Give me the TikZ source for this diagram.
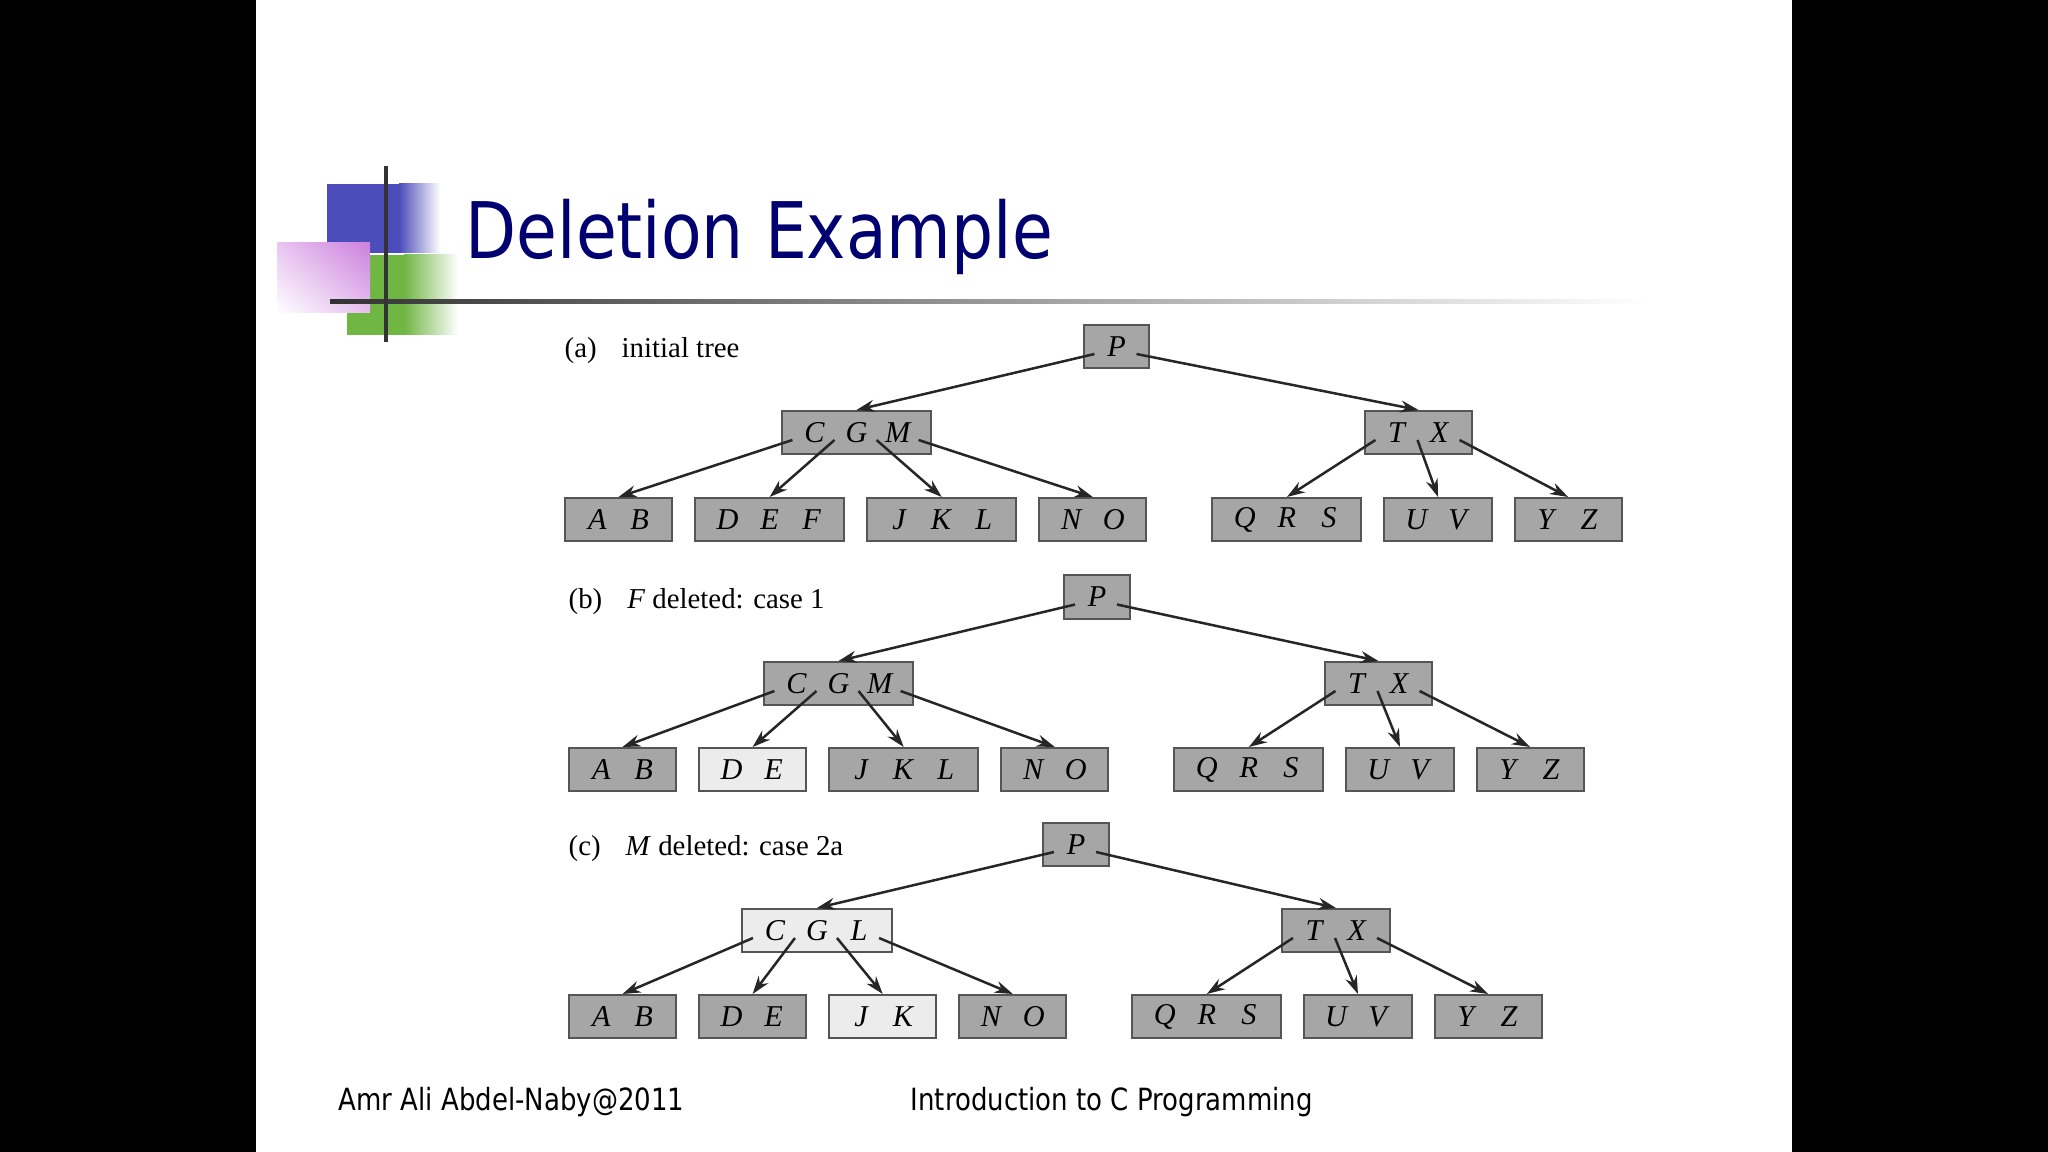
\documentclass[tikz,border=0pt]{standalone}
\usepackage{fontspec}
\setmainfont{Liberation Serif}
\newfontfamily\slidefont[FakeStretch=0.85]{DejaVu Sans}
\usetikzlibrary{arrows.meta, positioning, shadings}
\definecolor{keycol}{RGB}{166,166,166}
\definecolor{freshcol}{RGB}{236,236,236}
\definecolor{edgecol}{RGB}{85,85,85}
\definecolor{titlecol}{RGB}{0,0,112}
\definecolor{bluedeco}{RGB}{76,76,186}
\definecolor{greendeco}{RGB}{112,182,66}
\definecolor{pinkdeco}{RGB}{204,128,222}
\newcommand{\bkey}[1]{\makebox[0.42cm]{\textit{#1}}}

\begin{document}
\begin{tikzpicture}[
  x=0.01cm, y=-0.01cm,
  >={Stealth[length=0.18cm, width=0.12cm]},
  node distance=0.21cm,
  bnode/.style={draw=edgecol, fill=keycol, line width=0.02cm,
                inner xsep=0.115cm, inner ysep=0pt, minimum height=0.43cm,
                font=\fontsize{8.6}{9}\selectfont},
  fresh/.style={bnode, fill=freshcol},
  link/.style={->, line width=0.025cm, draw=black!85},
  caption/.style={anchor=west, inner sep=0pt, font=\fontsize{8.2}{9}\selectfont},
  slidetext/.style={anchor=base west, inner sep=0pt, font=\slidefont\fontsize{8.7}{10}\selectfont}
]
  \useasboundingbox (0,0) rectangle (2048,1152);
  \fill[black] (0,0) rectangle (2048,1152);
  \fill[white] (256,0) rectangle (1792,1152);

  % title decoration
  \fill[bluedeco] (327,184) rectangle (400,253);
  \shade[left color=bluedeco, right color=white] (399,184) rectangle (440,253);
  \fill[greendeco] (347,255) rectangle (405,335);
  \shade[left color=greendeco, right color=white] (404,255) rectangle (458,335);
  \shade[upper right=pinkdeco, upper left=pinkdeco!45, lower right=pinkdeco!50,
         lower left=white] (277,243) rectangle (370,313);
  \shade[left color=black!80, middle color=black!55, right color=white] (330,300) rectangle (1650,304);
  \fill[black!80] (384,166) rectangle (388,342);

  \node[anchor=base west, inner sep=0pt, text=titlecol,
        font=\slidefont\fontsize{22.2}{26}\selectfont] (title) at (465,259) {Deletion Example};

  % (a)
  \node[caption] (a-cap) at (564,351) {(a)\hspace{0.25cm}initial tree};
  \node[bnode] (a-p) at (1116.5,346.5) {\bkey{P}};
  \node[bnode] (a-cgm) at (856.5,432.5) {\bkey{C}\bkey{G}\bkey{M}};
  \node[bnode] (a-tx) at (1418.5,432.5) {\bkey{T}\bkey{X}};
  \node[bnode, anchor=west] (a-ab) at (564,519.5) {\bkey{A}\bkey{B}};
  \node[bnode, right=of a-ab] (a-def) {\bkey{D}\bkey{E}\bkey{F}};
  \node[bnode, right=of a-def] (a-jkl) {\bkey{J}\bkey{K}\bkey{L}};
  \node[bnode, right=of a-jkl] (a-no) {\bkey{N}\bkey{O}};
  \node[bnode, right=0.64cm of a-no] (a-qrs) {\bkey{Q}\bkey{R}\bkey{S}};
  \node[bnode, right=of a-qrs] (a-uv) {\bkey{U}\bkey{V}};
  \node[bnode, right=of a-uv] (a-yz) {\bkey{Y}\bkey{Z}};
  \foreach \i/\kid in {0/a-cgm, 1/a-tx}
    \draw[link] ([shift={(0.115cm+\i*0.42cm, 0.15cm)}]a-p.south west) -- (\kid.north);
  \foreach \i/\kid in {0/a-ab, 1/a-def, 2/a-jkl, 3/a-no}
    \draw[link] ([shift={(0.115cm+\i*0.42cm, 0.15cm)}]a-cgm.south west) -- (\kid.north);
  \foreach \i/\kid in {0/a-qrs, 1/a-uv, 2/a-yz}
    \draw[link] ([shift={(0.115cm+\i*0.42cm, 0.15cm)}]a-tx.south west) -- (\kid.north);

  % (b)
  \node[caption] (b-cap) at (568,602) {(b)\hspace{0.25cm}\textit{F} deleted: case 1};
  \node[bnode] (b-p) at (1097,597) {\bkey{P}};
  \node[bnode] (b-cgm) at (838.5,683.5) {\bkey{C}\bkey{G}\bkey{M}};
  \node[bnode] (b-tx) at (1378.5,683.5) {\bkey{T}\bkey{X}};
  \node[bnode, anchor=west] (b-ab) at (568,769.5) {\bkey{A}\bkey{B}};
  \node[fresh, right=of b-ab] (b-de) {\bkey{D}\bkey{E}};
  \node[bnode, right=of b-de] (b-jkl) {\bkey{J}\bkey{K}\bkey{L}};
  \node[bnode, right=of b-jkl] (b-no) {\bkey{N}\bkey{O}};
  \node[bnode, right=0.64cm of b-no] (b-qrs) {\bkey{Q}\bkey{R}\bkey{S}};
  \node[bnode, right=of b-qrs] (b-uv) {\bkey{U}\bkey{V}};
  \node[bnode, right=of b-uv] (b-yz) {\bkey{Y}\bkey{Z}};
  \foreach \i/\kid in {0/b-cgm, 1/b-tx}
    \draw[link] ([shift={(0.115cm+\i*0.42cm, 0.15cm)}]b-p.south west) -- (\kid.north);
  \foreach \i/\kid in {0/b-ab, 1/b-de, 2/b-jkl, 3/b-no}
    \draw[link] ([shift={(0.115cm+\i*0.42cm, 0.15cm)}]b-cgm.south west) -- (\kid.north);
  \foreach \i/\kid in {0/b-qrs, 1/b-uv, 2/b-yz}
    \draw[link] ([shift={(0.115cm+\i*0.42cm, 0.15cm)}]b-tx.south west) -- (\kid.north);

  % (c)
  \node[caption] (c-cap) at (568,849) {(c)\hspace{0.25cm}\textit{M} deleted: case 2a};
  \node[bnode] (c-p) at (1076,844.5) {\bkey{P}};
  \node[fresh] (c-cgl) at (817,930.5) {\bkey{C}\bkey{G}\bkey{L}};
  \node[bnode] (c-tx) at (1336,930.5) {\bkey{T}\bkey{X}};
  \node[bnode, anchor=west] (c-ab) at (568,1016.5) {\bkey{A}\bkey{B}};
  \node[bnode, right=of c-ab] (c-de) {\bkey{D}\bkey{E}};
  \node[fresh, right=of c-de] (c-jk) {\bkey{J}\bkey{K}};
  \node[bnode, right=of c-jk] (c-no) {\bkey{N}\bkey{O}};
  \node[bnode, right=0.64cm of c-no] (c-qrs) {\bkey{Q}\bkey{R}\bkey{S}};
  \node[bnode, right=of c-qrs] (c-uv) {\bkey{U}\bkey{V}};
  \node[bnode, right=of c-uv] (c-yz) {\bkey{Y}\bkey{Z}};
  \foreach \i/\kid in {0/c-cgl, 1/c-tx}
    \draw[link] ([shift={(0.115cm+\i*0.42cm, 0.15cm)}]c-p.south west) -- (\kid.north);
  \foreach \i/\kid in {0/c-ab, 1/c-de, 2/c-jk, 3/c-no}
    \draw[link] ([shift={(0.115cm+\i*0.42cm, 0.15cm)}]c-cgl.south west) -- (\kid.north);
  \foreach \i/\kid in {0/c-qrs, 1/c-uv, 2/c-yz}
    \draw[link] ([shift={(0.115cm+\i*0.42cm, 0.15cm)}]c-tx.south west) -- (\kid.north);

  \node[slidetext] (author) at (338,1110) {Amr Ali Abdel-Naby@2011};
  \node[slidetext] (course) at (910,1110) {Introduction to C Programming};
\end{tikzpicture}
\end{document}
